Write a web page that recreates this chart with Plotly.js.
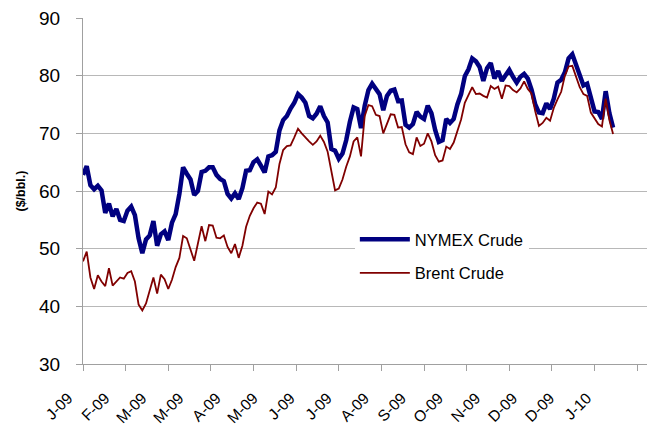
<!DOCTYPE html>
<html>
<head>
<meta charset="utf-8">
<script src="https://cdn.plot.ly/plotly-3.0.1.min.js"></script>
<style>
  html, body { margin: 0; padding: 0; background: #fff; }
  #chart { width: 648px; height: 426px; }
</style>
</head>
<body>
<div id="chart"></div>
<script>
// Trading-day index of each x-axis label and the label text
const labelDays = [0, 20, 40, 60, 80, 100, 120, 140, 160, 180, 200, 220, 240, 260, 280];
const labelText = ['J-09','F-09','M-09','M-09','A-09','M-09','J-09','J-09','A-09','S-09','O-09','N-09','D-09','D-09','J-10'];
const yTicks = [30, 40, 50, 60, 70, 80, 90];

// Series values, one reading every second trading day ($/bbl)
const nymex = [
  62.8, 64.3, 61.0, 60.3, 60.9, 60.1, 56.2, 57.8, 55.6, 56.9,
  55.0, 54.8, 56.6, 57.3, 55.8, 51.8, 49.2, 51.6, 52.3, 54.8,
  50.5, 52.5, 53.0, 51.5, 54.5, 56.0, 59.5, 64.1, 63.0, 62.0,
  59.3, 60.0, 63.3, 63.5, 64.1, 64.1, 62.8, 62.1, 61.7, 59.5,
  58.7, 59.6, 58.6, 60.5, 63.5, 63.6, 65.0, 65.5, 64.4, 63.2,
  66.0, 66.2, 66.8, 70.5, 72.3, 73.0, 74.3, 75.3, 76.8, 76.2,
  75.3, 73.0, 72.6, 73.4, 74.7, 73.0, 71.9, 67.3, 67.0, 65.6,
  66.5, 68.8, 72.0, 74.5, 74.2, 70.9, 74.8, 77.5, 78.6, 77.6,
  76.8, 74.0, 76.5, 77.4, 77.6, 75.6, 75.7, 71.5, 71.0, 71.6,
  73.7, 72.9, 72.5, 74.8, 73.5, 70.6, 68.5, 68.8, 72.5, 71.8,
  72.5, 75.0, 76.8, 79.9, 81.1, 83.0, 82.5, 81.5, 79.1, 81.3,
  82.2, 79.5, 80.8, 79.1, 80.0, 81.0, 79.8, 78.8, 79.8, 80.3,
  79.5, 77.6, 75.0, 73.6, 73.5, 75.2, 74.2, 76.0, 78.8, 79.3,
  80.6, 83.0, 83.7, 82.0, 80.1, 78.3, 78.6, 76.3, 73.8, 73.7,
  72.5, 77.3, 73.5, 71.0
];
const brent = [
  47.8, 49.5, 45.0, 43.0, 45.4, 44.3, 43.5, 46.6, 43.6, 44.4,
  45.0, 44.8, 45.8, 46.1, 44.3, 40.3, 39.3, 40.5, 42.8, 45.0,
  42.2, 45.5, 44.7, 43.0, 44.6, 46.8, 48.4, 52.2, 51.8, 50.0,
  47.9, 50.9, 53.9, 51.3, 54.1, 54.0, 51.9, 51.8, 52.3, 50.3,
  49.2, 50.8, 48.4, 50.5, 53.8, 55.7, 57.0, 58.0, 57.8, 56.0,
  59.9, 59.4, 60.6, 64.7, 67.1, 67.8, 67.9, 69.3, 70.8, 70.0,
  69.2, 68.6, 68.0, 68.6, 69.6, 68.5, 66.8, 63.2, 60.1, 60.4,
  62.0, 64.2, 66.0, 68.6, 69.3, 66.0, 73.0, 74.9, 74.7, 73.2,
  73.0, 70.0, 71.8, 73.3, 73.2, 71.0, 71.1, 68.1, 66.7, 66.4,
  69.3, 67.8, 68.2, 70.0, 68.6, 66.2, 65.1, 65.3, 67.7, 67.3,
  68.4, 70.6, 72.4, 75.3, 76.7, 78.0, 76.8, 76.9, 76.5, 76.2,
  78.2, 77.7, 78.1, 76.0, 78.3, 78.2, 77.5, 77.1, 77.8, 79.0,
  77.7, 76.9, 73.8, 71.3, 71.8, 72.7, 72.2, 74.4, 75.9, 77.2,
  80.0, 81.6, 81.7, 79.9, 78.0, 76.8, 76.5, 73.6, 72.6, 71.6,
  71.2, 76.0, 72.3, 69.9
];
const day = nymex.map((_, i) => i * 2);

const FONT = 'Liberation Sans, Arial, sans-serif';
const XRANGE = [0, 304.3];

const traces = [
  {
    x: day, y: nymex, name: 'NYMEX Crude', type: 'scatter', mode: 'lines',
    line: { color: '#000080', width: 4.5 },
    xaxis: 'x', yaxis: 'y', legendgroup: 'a', hoverinfo: 'skip'
  },
  {
    x: day, y: brent, name: 'Brent Crude', type: 'scatter', mode: 'lines',
    line: { color: '#800000', width: 1.8 },
    xaxis: 'x2', yaxis: 'y', legendgroup: 'b', hoverinfo: 'skip'
  }
];

const layout = {
  width: 648, height: 426,
  margin: { l: 83, r: 1, t: 18, b: 62 },
  paper_bgcolor: '#ffffff', plot_bgcolor: '#ffffff',
  font: { family: FONT, color: '#000' },
  showlegend: true,
  legend: {
    x: 0.482, xanchor: 'left', y: 0.41, yanchor: 'top',
    bgcolor: '#ffffff', borderwidth: 0,
    font: { family: FONT, size: 16.5, color: '#000' },
    itemwidth: 50, traceorder: 'grouped', tracegroupgap: 9
  },
  xaxis: {
    range: XRANGE, showgrid: false, zeroline: false,
    showline: true, linecolor: '#a0a0a0', linewidth: 1,
    ticks: 'outside', tickmode: 'linear', tick0: 0, dtick: 23,
    ticklen: 6, tickcolor: '#a0a0a0', tickwidth: 1,
    showticklabels: false
  },
  xaxis2: {
    overlaying: 'x', anchor: 'y', side: 'bottom',
    range: XRANGE, showgrid: false, zeroline: false, showline: false,
    ticks: 'outside', ticklen: 13, tickcolor: 'rgba(0,0,0,0)',
    tickmode: 'array', tickvals: labelDays, ticktext: labelText,
    tickangle: -45, tickfont: { family: FONT, size: 15.5, color: '#000' },
    ticklabelshift: -15, ticklabelstandoff: 5
  },
  yaxis: {
    range: [30, 90], tickmode: 'array', tickvals: yTicks,
    showgrid: true, gridcolor: '#b8b8b8', gridwidth: 1, zeroline: false,
    showline: true, linecolor: '#a0a0a0', linewidth: 1,
    ticks: 'outside', ticklen: 6, tickcolor: '#a0a0a0',
    tickfont: { family: FONT, size: 19, color: '#000' },
    ticklabelstandoff: 12,
    title: { text: '($/bbl.)', font: { family: FONT, size: 12.5, color: '#000', weight: 'bold' }, standoff: 10 }
  }
};

Plotly.newPlot('chart', traces, layout, { staticPlot: true, displayModeBar: false });
</script>
</body>
</html>
